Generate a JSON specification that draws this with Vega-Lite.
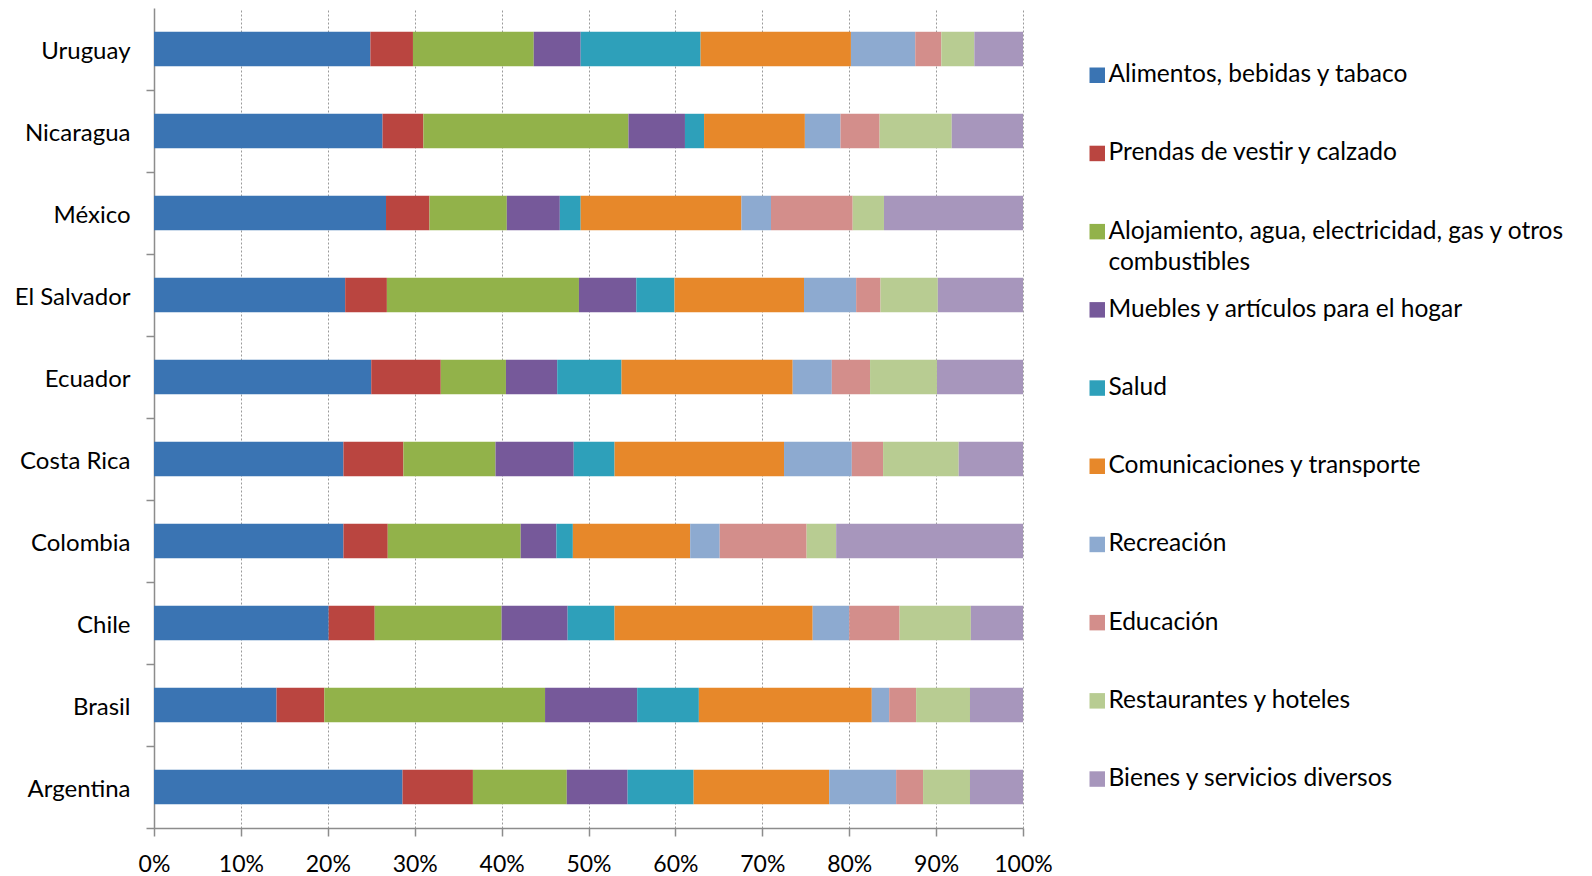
{
  "$schema": "https://vega.github.io/schema/vega-lite/v6.json",
  "width": 869,
  "height": 820,
  "autosize": {"type": "none"},
  "padding": {"left": 154, "top": 8, "right": 569, "bottom": 48},
  "background": "white",
  "config": {"font": "Lato", "view": {"stroke": null}, "style": {"guide-label": {"lineHeight": 31}}},
  "data": {
    "values": [
      {"pais": "Uruguay", "Alimentos, bebidas y tabaco": 24.9, "Prendas de vestir y calzado": 4.9, "Alojamiento, agua, electricidad, gas y otros combustibles": 13.9, "Muebles y artículos para el hogar": 5.4, "Salud": 13.8, "Comunicaciones y transporte": 17.3, "Recreación": 7.4, "Educación": 3.0, "Restaurantes y hoteles": 3.8, "Bienes y servicios diversos": 5.6},
      {"pais": "Nicaragua", "Alimentos, bebidas y tabaco": 26.3, "Prendas de vestir y calzado": 4.7, "Alojamiento, agua, electricidad, gas y otros combustibles": 23.6, "Muebles y artículos para el hogar": 6.5, "Salud": 2.2, "Comunicaciones y transporte": 11.6, "Recreación": 4.1, "Educación": 4.5, "Restaurantes y hoteles": 8.3, "Bienes y servicios diversos": 8.2},
      {"pais": "México", "Alimentos, bebidas y tabaco": 26.7, "Prendas de vestir y calzado": 5.0, "Alojamiento, agua, electricidad, gas y otros combustibles": 8.9, "Muebles y artículos para el hogar": 6.1, "Salud": 2.4, "Comunicaciones y transporte": 18.5, "Recreación": 3.4, "Educación": 9.4, "Restaurantes y hoteles": 3.6, "Bienes y servicios diversos": 16.0},
      {"pais": "El Salvador", "Alimentos, bebidas y tabaco": 22.0, "Prendas de vestir y calzado": 4.8, "Alojamiento, agua, electricidad, gas y otros combustibles": 22.1, "Muebles y artículos para el hogar": 6.6, "Salud": 4.4, "Comunicaciones y transporte": 14.9, "Recreación": 6.0, "Educación": 2.8, "Restaurantes y hoteles": 6.6, "Bienes y servicios diversos": 9.8},
      {"pais": "Ecuador", "Alimentos, bebidas y tabaco": 25.0, "Prendas de vestir y calzado": 8.0, "Alojamiento, agua, electricidad, gas y otros combustibles": 7.5, "Muebles y artículos para el hogar": 5.9, "Salud": 7.4, "Comunicaciones y transporte": 19.7, "Recreación": 4.5, "Educación": 4.4, "Restaurantes y hoteles": 7.7, "Bienes y servicios diversos": 9.9},
      {"pais": "Costa Rica", "Alimentos, bebidas y tabaco": 21.8, "Prendas de vestir y calzado": 6.9, "Alojamiento, agua, electricidad, gas y otros combustibles": 10.6, "Muebles y artículos para el hogar": 9.0, "Salud": 4.7, "Comunicaciones y transporte": 19.5, "Recreación": 7.8, "Educación": 3.6, "Restaurantes y hoteles": 8.7, "Bienes y servicios diversos": 7.4},
      {"pais": "Colombia", "Alimentos, bebidas y tabaco": 21.8, "Prendas de vestir y calzado": 5.1, "Alojamiento, agua, electricidad, gas y otros combustibles": 15.3, "Muebles y artículos para el hogar": 4.1, "Salud": 1.9, "Comunicaciones y transporte": 13.5, "Recreación": 3.4, "Educación": 10.0, "Restaurantes y hoteles": 3.4, "Bienes y servicios diversos": 21.5},
      {"pais": "Chile", "Alimentos, bebidas y tabaco": 20.1, "Prendas de vestir y calzado": 5.3, "Alojamiento, agua, electricidad, gas y otros combustibles": 14.6, "Muebles y artículos para el hogar": 7.6, "Salud": 5.4, "Comunicaciones y transporte": 22.8, "Recreación": 4.2, "Educación": 5.8, "Restaurantes y hoteles": 8.2, "Bienes y servicios diversos": 6.0},
      {"pais": "Brasil", "Alimentos, bebidas y tabaco": 14.1, "Prendas de vestir y calzado": 5.5, "Alojamiento, agua, electricidad, gas y otros combustibles": 25.4, "Muebles y artículos para el hogar": 10.6, "Salud": 7.1, "Comunicaciones y transporte": 19.9, "Recreación": 2.0, "Educación": 3.1, "Restaurantes y hoteles": 6.2, "Bienes y servicios diversos": 6.1},
      {"pais": "Argentina", "Alimentos, bebidas y tabaco": 28.6, "Prendas de vestir y calzado": 8.1, "Alojamiento, agua, electricidad, gas y otros combustibles": 10.8, "Muebles y artículos para el hogar": 7.0, "Salud": 7.6, "Comunicaciones y transporte": 15.6, "Recreación": 7.7, "Educación": 3.1, "Restaurantes y hoteles": 5.4, "Bienes y servicios diversos": 6.1}
    ]
  },
  "transform": [
    {"fold": ["Alimentos, bebidas y tabaco", "Prendas de vestir y calzado", "Alojamiento, agua, electricidad, gas y otros combustibles", "Muebles y artículos para el hogar", "Salud", "Comunicaciones y transporte", "Recreación", "Educación", "Restaurantes y hoteles", "Bienes y servicios diversos"], "as": ["cat", "v"]},
    {"calculate": "indexof(['Alimentos, bebidas y tabaco', 'Prendas de vestir y calzado', 'Alojamiento, agua, electricidad, gas y otros combustibles', 'Muebles y artículos para el hogar', 'Salud', 'Comunicaciones y transporte', 'Recreación', 'Educación', 'Restaurantes y hoteles', 'Bienes y servicios diversos'], datum.cat)", "as": "orden"}
  ],
  "mark": {"type": "bar"},
  "encoding": {
    "y": {
      "field": "pais", "type": "nominal",
      "sort": ["Uruguay", "Nicaragua", "México", "El Salvador", "Ecuador", "Costa Rica", "Colombia", "Chile", "Brasil", "Argentina"],
      "scale": {"paddingInner": 0.58, "paddingOuter": 0.29},
      "axis": {"title": null, "labelFontSize": 24, "labelColor": "#000", "tickBand": "center", "tickOffset": 41, "labelOffset": -39, "tickExtra": true, "tickSize": 8, "labelPadding": 16, "domainColor": "#8c8c8c", "tickColor": "#8c8c8c", "domainWidth": 1.5, "tickWidth": 1.5, "grid": false}
    },
    "x": {
      "field": "v", "type": "quantitative", "stack": "normalize",
      "scale": {"domain": [0, 1], "nice": false},
      "axis": {"title": null, "format": ".0%", "values": [0, 0.1, 0.2, 0.3, 0.4, 0.5, 0.6, 0.7, 0.8, 0.9, 1], "labelFontSize": 23, "labelColor": "#000", "grid": true, "gridDash": [2, 2], "gridColor": "#9a9a9a", "tickSize": 8, "tickColor": "#8c8c8c", "domainColor": "#8c8c8c", "domainWidth": 1.5, "tickWidth": 1.5, "labelPadding": 17, "labelFlush": false}
    },
    "order": {"field": "orden", "type": "quantitative", "sort": "ascending"},
    "color": {
      "field": "cat", "type": "nominal",
      "sort": ["Alimentos, bebidas y tabaco", "Prendas de vestir y calzado", "Alojamiento, agua, electricidad, gas y otros combustibles", "Muebles y artículos para el hogar", "Salud", "Comunicaciones y transporte", "Recreación", "Educación", "Restaurantes y hoteles", "Bienes y servicios diversos"],
      "scale": {
        "domain": ["Alimentos, bebidas y tabaco", "Prendas de vestir y calzado", "Alojamiento, agua, electricidad, gas y otros combustibles", "Muebles y artículos para el hogar", "Salud", "Comunicaciones y transporte", "Recreación", "Educación", "Restaurantes y hoteles", "Bienes y servicios diversos"],
        "range": ["#3A74B3", "#BA4540", "#92B24A", "#76599A", "#2EA0BA", "#E7882A", "#8DAAD0", "#D38E8B", "#B8CC92", "#A796BC"]
      },
      "legend": {
        "title": null, "orient": "none", "legendX": 931, "legendY": 55,
        "symbolType": "square", "symbolSize": 240, "symbolStrokeWidth": 0, "symbolOpacity": 1,
        "labelFontSize": 24.5, "labelColor": "#000", "labelLimit": 500, "labelOffset": -1,
        "rowPadding": 22.2, "padding": 0, "gridAlign": "all",
        "labelExpr": "datum.label == 'Alojamiento, agua, electricidad, gas y otros combustibles' ? ['Alojamiento, agua, electricidad, gas y otros', 'combustibles'] : datum.label"
      }
    }
  }
}
